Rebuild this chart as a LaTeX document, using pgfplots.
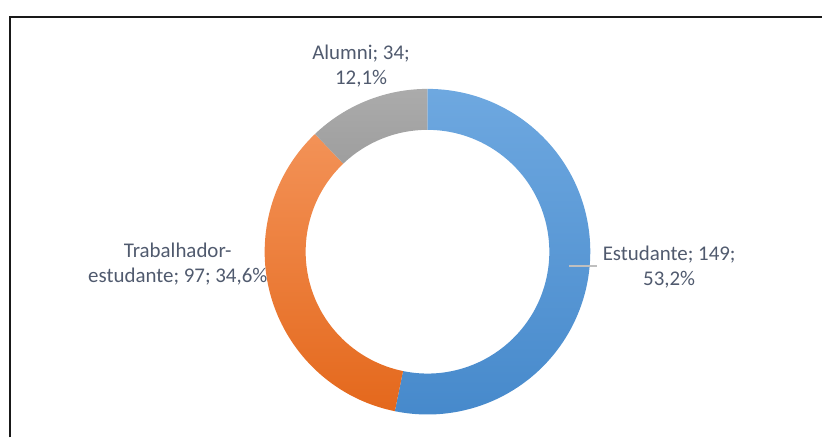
\documentclass[border=0pt]{standalone}
\usepackage{pgfplots}
\pgfplotsset{compat=1.18}
\usepackage{fontspec}
\setmainfont{Carlito}

\definecolor{lbl}{HTML}{505A6E}
\definecolor{bluetop}{HTML}{6EA8E0}
\definecolor{bluebot}{HTML}{4689CB}
\definecolor{orgtop}{HTML}{F39257}
\definecolor{orgbot}{HTML}{E4681C}
\definecolor{graytop}{HTML}{ABABAB}
\definecolor{graybot}{HTML}{9E9E9E}
\definecolor{leader}{HTML}{BFBFBF}

% values
\def\vEst{149}
\def\vTrab{97}
\def\vAlu{34}
\pgfmathsetmacro{\total}{\vEst+\vTrab+\vAlu}
\pgfmathsetmacro{\aA}{90}
\pgfmathsetmacro{\aB}{\aA-360*(\vEst/\total)}
\pgfmathsetmacro{\aC}{\aB-360*(\vTrab/\total)}
\pgfmathsetmacro{\aD}{\aC-360*(\vAlu/\total)}
\pgfmathsetmacro{\pEst}{100*(\vEst/\total)}
\pgfmathsetmacro{\pTrab}{100*(\vTrab/\total)}
\pgfmathsetmacro{\pAlu}{100*(\vAlu/\total)}
\def\Ro{122.25pt}
\def\Ri{91.5pt}
\newcommand{\pc}[1]{\pgfmathprintnumber[fixed,fixed zerofill,precision=1,use comma,assume math mode=true]{#1}\%}
\newcommand{\ring}[4]{% start, end, top, bottom
  \shade[top color=#3, bottom color=#4] (#1:\Ro) arc[start angle=#1, end angle=#2, radius=\Ro]
    -- (#2:\Ri) arc[start angle=#2, end angle=#1, radius=\Ri] -- cycle;}

\begin{document}
\begin{tikzpicture}
\begin{axis}[
  width=617.25pt, height=328.5pt, scale only axis,
  xmin=0, xmax=823, ymin=0, ymax=438, y dir=reverse,
  hide axis, clip=false,
]
% frame
\draw[line width=1.5pt, black!90] (axis cs:10,438) -- (axis cs:10,17) -- (axis cs:823,17);
\begin{scope}[shift={(axis cs:428,252)}]
  \ring{\aA}{\aB}{bluetop}{bluebot}
  \ring{\aB}{\aC}{orgtop}{orgbot}
  \ring{\aC}{\aD}{graytop}{graybot}
\end{scope}
\draw[leader, line width=1.5pt] (axis cs:570,266) -- (axis cs:598,266);
\node[font=\fontsize{15.7}{18.7}\selectfont, text=lbl, align=center] at (axis cs:670,267.5)
  {Estudante; \vEst;\\\pc{\pEst}};
\node[font=\fontsize{15.7}{18.7}\selectfont, text=lbl, align=center] at (axis cs:178,264)
  {Trabalhador-\\estudante; \vTrab; \pc{\pTrab}};
\node[font=\fontsize{15.7}{18.7}\selectfont, text=lbl, align=center] at (axis cs:361.5,66)
  {Alumni; \vAlu;\\\pc{\pAlu}};
\end{axis}
\path (current axis.south west) (current axis.north east);
\end{tikzpicture}
\end{document}
